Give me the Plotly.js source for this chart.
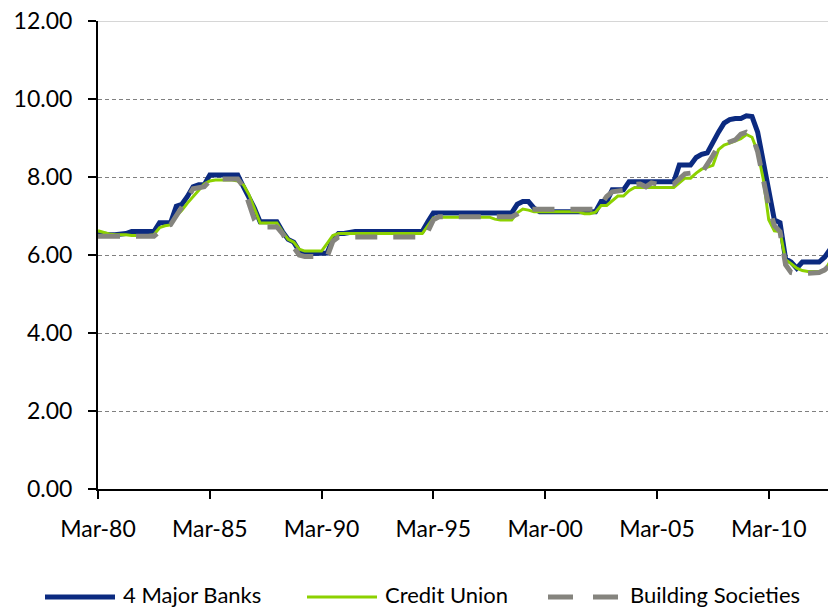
<!DOCTYPE html>
<html>
<head>
<meta charset="utf-8">
<script src="https://cdn.plot.ly/plotly-3.0.1.min.js"></script>
<style>
  html, body { margin: 0; padding: 0; background: #fff; }
  #chart { width: 828px; height: 609px; }
</style>
</head>
<body>
<div id="chart"></div>
<script>
// ---- DATA ----
const seriesNames = ["4 Major Banks", "Credit Union", "Building Societies"];
const firstYear = 1980;          // first quarter: Mar-80
const quarterMonths = ["03", "06", "09", "12"];

const majorBanks = [
  6.55, 6.52, 6.52, 6.52, 6.52, 6.55, 6.60, 6.60, 6.60, 6.60,
  6.60, 6.83, 6.83, 6.83, 7.25, 7.30, 7.50, 7.75, 7.80, 7.80,
  8.05, 8.05, 8.05, 8.05, 8.05, 8.05, 7.75, 7.50, 7.20, 6.85,
  6.85, 6.85, 6.85, 6.60, 6.40, 6.33, 6.10, 6.03, 6.03, 6.03,
  6.03, 6.05, 6.40, 6.55, 6.55, 6.58, 6.60, 6.60, 6.60, 6.60,
  6.60, 6.60, 6.60, 6.60, 6.60, 6.60, 6.60, 6.60, 6.60, 6.85,
  7.08, 7.08, 7.08, 7.08, 7.08, 7.08, 7.08, 7.08, 7.08, 7.08,
  7.08, 7.08, 7.08, 7.08, 7.08, 7.30, 7.37, 7.37, 7.20, 7.11,
  7.11, 7.11, 7.11, 7.11, 7.11, 7.11, 7.11, 7.11, 7.11, 7.11,
  7.37, 7.37, 7.67, 7.67, 7.67, 7.88, 7.88, 7.88, 7.88, 7.88,
  7.88, 7.88, 7.88, 7.88, 8.31, 8.31, 8.31, 8.50, 8.58, 8.62,
  8.90, 9.15, 9.38, 9.47, 9.50, 9.50, 9.57, 9.55, 9.15, 8.35,
  7.60, 6.90, 6.83, 5.90, 5.82, 5.66, 5.82, 5.82, 5.82, 5.82,
  5.95, 6.15
];

const creditUnion = [
  6.62, 6.57, 6.54, 6.52, 6.52, 6.52, 6.50, 6.50, 6.50, 6.50,
  6.52, 6.70, 6.75, 6.77, 7.00, 7.15, 7.33, 7.50, 7.67, 7.82,
  7.90, 7.92, 7.92, 7.92, 7.92, 7.90, 7.80, 7.55, 7.20, 6.82,
  6.82, 6.82, 6.82, 6.60, 6.40, 6.33, 6.15, 6.10, 6.10, 6.10,
  6.10, 6.30, 6.50, 6.55, 6.55, 6.55, 6.55, 6.55, 6.55, 6.55,
  6.55, 6.55, 6.55, 6.55, 6.55, 6.55, 6.55, 6.55, 6.55, 6.75,
  6.95, 6.97, 6.97, 6.97, 6.97, 6.97, 6.97, 6.97, 6.97, 6.97,
  6.97, 6.92, 6.90, 6.90, 6.90, 7.08, 7.18, 7.15, 7.11, 7.11,
  7.11, 7.11, 7.11, 7.11, 7.11, 7.11, 7.11, 7.06, 7.06, 7.10,
  7.27, 7.27, 7.40, 7.51, 7.51, 7.65, 7.73, 7.73, 7.73, 7.73,
  7.73, 7.73, 7.73, 7.73, 7.85, 7.97, 7.97, 8.10, 8.20, 8.25,
  8.30, 8.70, 8.82, 8.87, 8.92, 8.98, 9.09, 9.02, 8.65, 7.95,
  6.90, 6.62, 6.60, 5.88, 5.78, 5.66, 5.60, 5.58, 5.58, 5.58,
  5.60, 5.85
];

const buildingSocieties = [
  6.48, 6.48, 6.48, 6.48, 6.48, 6.48, 6.48, 6.48, 6.48, 6.48,
  6.48, 6.60, 6.75, 6.78, 7.00, 7.20, 7.45, 7.70, 7.72, 7.75,
  7.90, 7.95, 7.95, 7.95, 7.95, 7.95, 7.75, 7.35, 6.90, 6.72,
  6.72, 6.72, 6.72, 6.55, 6.30, 6.20, 6.00, 5.96, 5.96, 5.96,
  5.96, 5.96, 6.35, 6.46, 6.46, 6.46, 6.46, 6.46, 6.46, 6.46,
  6.46, 6.46, 6.46, 6.46, 6.46, 6.46, 6.46, 6.46, 6.46, 6.60,
  6.90, 6.98, 6.98, 6.98, 6.98, 6.98, 6.98, 6.98, 6.98, 6.98,
  6.98, 6.98, 6.98, 6.98, 6.98, 7.05, 7.17, 7.17, 7.17, 7.17,
  7.17, 7.17, 7.17, 7.17, 7.17, 7.17, 7.17, 7.17, 7.17, 7.17,
  7.30, 7.50, 7.62, 7.64, 7.66, 7.80, 7.82, 7.82, 7.75, 7.85,
  7.82, 7.82, 7.82, 7.82, 7.95, 8.08, 8.10, 8.05, 8.10, 8.30,
  8.55, 8.80, 8.85, 8.88, 8.95, 9.10, 9.15, 9.08, 8.65, 7.95,
  7.25, 6.75, 6.60, 5.75, 5.55, 5.52, 5.52, 5.55, 5.55, 5.55,
  5.62, 5.75
];

const xTickLabels = ["Mar-80", "Mar-85", "Mar-90", "Mar-95", "Mar-00", "Mar-05", "Mar-10"];
const xTickDates  = ["1980-03-15", "1985-03-15", "1990-03-15", "1995-03-15", "2000-03-15", "2005-03-15", "2010-03-15"];
const yTickValues = [0, 2, 4, 6, 8, 10, 12];

// quarter dates (categories)
const quarters = [];
for (let i = 0; i < majorBanks.length; i++) {
  const y = firstYear + Math.floor(i / 4);
  quarters.push(y + "-" + quarterMonths[i % 4] + "-15");
}

// ---- STYLE ----
const colors = ["#0B2A80", "#8CD100", "#85847E"];
const FONT = "Lato, 'Open Sans', sans-serif";

const traces = [
  { x: quarters, y: majorBanks, name: seriesNames[0], type: "scatter", mode: "lines",
    line: { color: colors[0], width: 5, shape: "linear" } },
  { x: quarters, y: creditUnion, name: seriesNames[1], type: "scatter", mode: "lines",
    line: { color: colors[1], width: 3, shape: "linear" } },
  { x: quarters, y: buildingSocieties, name: seriesNames[2], type: "scatter", mode: "lines",
    line: { color: colors[2], width: 5, dash: "22px,16px", shape: "linear" } }
];

// plot area pixel geometry
const L = 98, T = 21, PW = 730, PH = 468;
const px = X => (X - L) / PW;
const py = Y => (T + PH - Y) / PH;

const legendY = 597;
const legendItems = [
  { x0: 45, x1: 115, tx: 121, dash: "solid", width: 5 },
  { x0: 307, x1: 377, tx: 383, dash: "solid", width: 3 },
  { x0: 548, x1: 618, tx: 628, dash: "25px,20px", width: 5 }
];

const shapes = [
  // light top border line at 12.00
  { type: "line", xref: "paper", yref: "y", x0: 0, x1: 1, y0: 12, y1: 12,
    line: { color: "#C8C8C8", width: 1.5 } }
];
const annotations = [];
legendItems.forEach((it, i) => {
  shapes.push({ type: "line", xref: "paper", yref: "paper",
    x0: px(it.x0), x1: px(it.x1), y0: py(legendY), y1: py(legendY),
    line: { color: colors[i], width: it.width, dash: it.dash } });
  annotations.push({ xref: "paper", yref: "paper", x: px(it.tx), y: py(legendY - 3),
    xanchor: "left", yanchor: "middle", showarrow: false, text: seriesNames[i],
    font: { family: FONT, size: 22, color: "#000" } });
});

const layout = {
  width: 828, height: 609,
  margin: { l: L, r: 828 - L - PW, t: T, b: 609 - T - PH, pad: 0 },
  paper_bgcolor: "#ffffff", plot_bgcolor: "#ffffff",
  showlegend: false,
  font: { family: FONT, size: 23, color: "#000" },
  xaxis: {
    type: "date",
    range: ["1980-03-15", "2012-11-07"],
    tickvals: xTickDates, ticktext: xTickLabels,
    showgrid: false, zeroline: false,
    showline: true, linecolor: "#000", linewidth: 2,
    ticks: "outside", ticklen: 8, tickwidth: 2, tickcolor: "#000",
    ticklabelstandoff: 10,
    tickfont: { family: FONT, size: 23, color: "#000" }
  },
  yaxis: {
    range: [0, 12],
    tickvals: yTickValues, tickformat: ".2f",
    showgrid: true, gridcolor: "#808080", gridwidth: 1, griddash: "4px,3px",
    zeroline: false,
    showline: true, linecolor: "#000", linewidth: 2,
    ticks: "outside", ticklen: 8, tickwidth: 2, tickcolor: "#000",
    ticklabelstandoff: 11,
    tickfont: { family: FONT, size: 23, color: "#000" }
  },
  shapes: shapes,
  annotations: annotations
};

Plotly.newPlot("chart", traces, layout, { staticPlot: true, displayModeBar: false });
</script>
</body>
</html>
